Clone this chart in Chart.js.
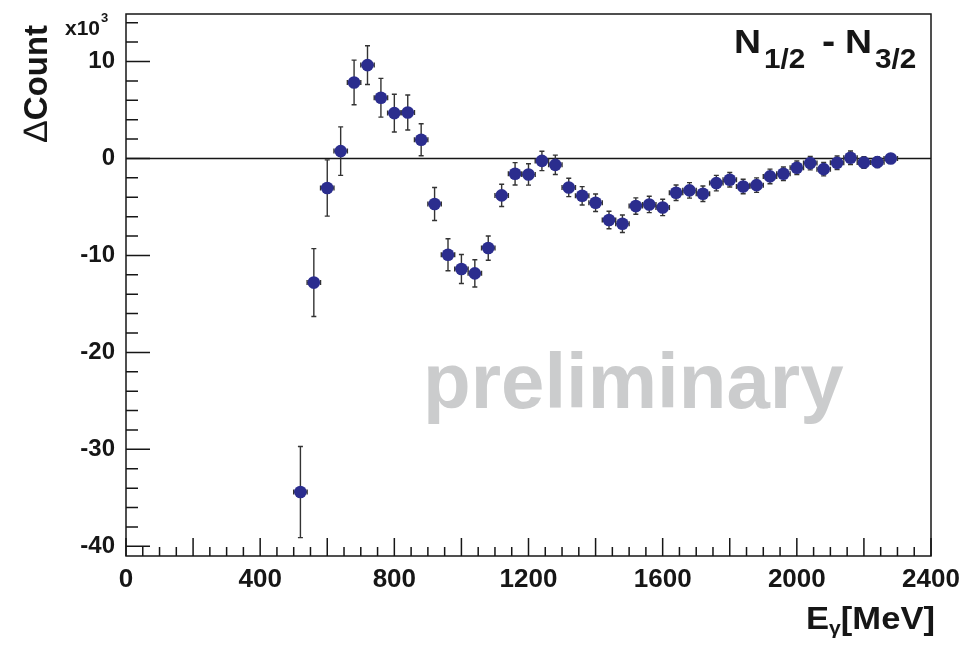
<!DOCTYPE html>
<html lang="en">
<head>
  <meta charset="UTF-8" />
  <title>N1/2 - N3/2 asymmetry</title>
  <script src="https://cdn.jsdelivr.net/npm/chart.js"></script>
  <style>
    * {
      margin: 0;
      padding: 0;
      box-sizing: border-box;
    }

    body {
      background: white;
      width: 968px;
      height: 645px;
      overflow: hidden;
    }

    .plot-box {
      position: relative;
      width: 968px;
      height: 645px;
    }
  </style>
</head>
<body>
  <div class="plot-box">
    <canvas id="diffChart" width="968" height="645"></canvas>
  </div>

  <script>
    // photon energy bin centres [MeV]
    const energy = [
      520, 560, 600, 640, 680, 720, 760, 800, 840, 880,
      920, 960, 1000, 1040, 1080, 1120, 1160, 1200, 1240, 1280,
      1320, 1360, 1400, 1440, 1480, 1520, 1560, 1600, 1640, 1680,
      1720, 1760, 1800, 1840, 1880, 1920, 1960, 2000, 2040, 2080,
      2120, 2160, 2200, 2240, 2280
    ];
    // count difference, units of 10^3
    const deltaCount = [
      -34.4, -12.8, -3.05, 0.76, 7.84, 9.63, 6.26, 4.68, 4.74, 1.93,
      -4.70, -9.93, -11.40, -11.85, -9.24, -3.81, -1.58, -1.65, -0.25, -0.66,
      -2.99, -3.85, -4.57, -6.35, -6.73, -4.91, -4.74, -5.05, -3.54, -3.29,
      -3.64, -2.54, -2.20, -2.89, -2.75, -1.85, -1.58, -0.96, -0.48, -1.10,
      -0.45, 0.07, -0.41, -0.38, 0.0
    ];
    // statistical errors, units of 10^3
    const deltaErr = [
      4.7, 3.5, 2.9, 2.5, 2.3, 2.0, 2.0, 1.95, 1.8, 1.65,
      1.7, 1.65, 1.5, 1.4, 1.25, 1.15, 1.15, 1.1, 1.0, 1.0,
      0.95, 0.95, 0.9, 0.9, 0.9, 0.85, 0.85, 0.85, 0.8, 0.8,
      0.8, 0.8, 0.75, 0.75, 0.75, 0.75, 0.7, 0.7, 0.7, 0.7,
      0.7, 0.7, 0.6, 0.55, 0.4
    ];
    const binHalfWidth = 20;

    const xTickValues = [0, 400, 800, 1200, 1600, 2000, 2400];
    const yTickValues = [-40, -30, -20, -10, 0, 10];

    const ink = '#161616';
    const markerColor = '#2b2d8e';
    const fontFamily = '"Liberation Sans", Arial, Helvetica, sans-serif';

    const points = energy.map((e, i) => ({ x: e, y: deltaCount[i] }));

    // error bars, zero line and watermark underneath the markers
    const underlayPlugin = {
      id: 'underlay',
      beforeDatasetsDraw(chart) {
        const { ctx, chartArea: a, scales: { x, y } } = chart;
        ctx.save();

        ctx.font = `bold 78px ${fontFamily}`;
        ctx.fillStyle = '#cbcccd';
        ctx.textBaseline = 'alphabetic';
        ctx.textAlign = 'left';
        ctx.fillText('preliminary', 423, 408);

        ctx.strokeStyle = ink;
        ctx.lineWidth = 1.5;
        ctx.beginPath();
        ctx.moveTo(a.left, y.getPixelForValue(0));
        ctx.lineTo(a.right, y.getPixelForValue(0));
        ctx.stroke();

        ctx.strokeStyle = '#333';
        ctx.lineWidth = 1.4;
        const cap = 2.5;
        energy.forEach((e, i) => {
          const px = x.getPixelForValue(e);
          const py = y.getPixelForValue(deltaCount[i]);
          const y1 = y.getPixelForValue(deltaCount[i] + deltaErr[i]);
          const y2 = y.getPixelForValue(deltaCount[i] - deltaErr[i]);
          const x1 = x.getPixelForValue(e - binHalfWidth);
          const x2 = x.getPixelForValue(e + binHalfWidth);
          ctx.beginPath();
          ctx.moveTo(px, y1); ctx.lineTo(px, y2);
          ctx.moveTo(px - cap, y1); ctx.lineTo(px + cap, y1);
          ctx.moveTo(px - cap, y2); ctx.lineTo(px + cap, y2);
          ctx.moveTo(x1, py); ctx.lineTo(x2, py);
          ctx.moveTo(x1, py - cap); ctx.lineTo(x1, py + cap);
          ctx.moveTo(x2, py - cap); ctx.lineTo(x2, py + cap);
          ctx.stroke();
        });
        ctx.restore();
      }
    };

    // draw a run of text pieces stretched to fill [x0, x1]
    function stretchText(ctx, pieces, x0, x1) {
      let total = 0;
      pieces.forEach(p => {
        ctx.font = p.font;
        p.w = ctx.measureText(p.text).width;
        total += p.w;
      });
      const k = (x1 - x0) / total;
      ctx.save();
      ctx.translate(x0, 0);
      ctx.scale(k, 1);
      let cx = 0;
      pieces.forEach(p => {
        ctx.font = p.font;
        ctx.fillText(p.text, cx, p.base);
        cx += p.w;
      });
      ctx.restore();
    }

    // frame, inward ticks and the axis/plot titles
    const framePlugin = {
      id: 'frame',
      afterDraw(chart) {
        const { ctx, chartArea: a, scales: { x, y } } = chart;
        ctx.save();
        ctx.strokeStyle = ink;
        ctx.lineWidth = 1.5;
        ctx.strokeRect(a.left, a.top, a.right - a.left, a.bottom - a.top);

        ctx.beginPath();
        for (let v = 0; v <= 2400; v += 50) {
          const px = x.getPixelForValue(v);
          const len = v % 200 === 0 ? 18 : 9;
          ctx.moveTo(px, a.bottom);
          ctx.lineTo(px, a.bottom - len);
        }
        for (let v = -40; v <= 14; v += 2) {
          const py = y.getPixelForValue(v);
          const len = v % 10 === 0 ? 24 : 12;
          ctx.moveTo(a.left, py);
          ctx.lineTo(a.left + len, py);
        }
        ctx.stroke();

        ctx.fillStyle = ink;
        ctx.textBaseline = 'alphabetic';
        ctx.textAlign = 'left';

        // y title, rotated; thin delta then bold word
        ctx.save();
        ctx.translate(47, 142);
        ctx.rotate(-Math.PI / 2);
        ctx.font = `34px ${fontFamily}`;
        ctx.fillText('\u2206', 0, 0);
        const wD = ctx.measureText('\u2206').width;
        ctx.font = `bold 33px ${fontFamily}`;
        ctx.fillText('Count', wD + 1, 0);
        ctx.restore();

        // exponent label
        ctx.font = `bold 21px ${fontFamily}`;
        ctx.fillText('x10', 65, 35);
        const w10 = ctx.measureText('x10').width;
        ctx.font = `bold 13px ${fontFamily}`;
        ctx.fillText('3', 65 + w10 + 1, 22);

        // x title E_gamma [MeV]
        stretchText(ctx, [
          { text: 'E', font: `bold 31px ${fontFamily}`, base: 629 },
          { text: '\u03b3', font: `bold 19px ${fontFamily}`, base: 634 },
          { text: '[MeV]', font: `bold 31px ${fontFamily}`, base: 629 }
        ], 806, 935);

        // plot title N_1/2 - N_3/2
        const parts = [
          ['N', 34, 53, 734], ['1/2', 27, 68, 764], ['-', 36, 53, 822],
          ['N', 34, 53, 845], ['3/2', 27, 68, 875]
        ];
        parts.forEach(([t, size, base, px]) => {
          ctx.save();
          ctx.translate(px, 0);
          ctx.scale(1.1, 1);
          ctx.font = `bold ${size}px ${fontFamily}`;
          ctx.fillText(t, 0, base);
          ctx.restore();
        });
        ctx.restore();
      }
    };

    new Chart(document.getElementById('diffChart'), {
      type: 'scatter',
      data: {
        datasets: [{
          label: 'N1/2 - N3/2',
          data: points,
          pointRadius: 6.3,
          pointHoverRadius: 6.3,
          pointBackgroundColor: markerColor,
          pointBorderColor: markerColor,
          pointBorderWidth: 0,
          showLine: false
        }]
      },
      options: {
        responsive: false,
        animation: false,
        events: [],
        layout: { padding: { top: 14, right: 37, left: 0, bottom: 0 } },
        plugins: {
          legend: { display: false },
          tooltip: { enabled: false },
          title: { display: false }
        },
        scales: {
          x: {
            type: 'linear',
            min: 0,
            max: 2400,
            afterBuildTicks: (scale) => {
              scale.ticks = xTickValues.map(v => ({ value: v }));
            },
            afterFit: (scale) => {
              scale.height = 89;
              scale.paddingLeft = 0;
              scale.paddingRight = 0;
            },
            grid: { display: false, drawTicks: false },
            border: { display: false },
            ticks: {
              padding: 8,
              maxRotation: 0,
              color: ink,
              font: { family: fontFamily, size: 26, weight: 'bold' },
              callback: (v) => String(v)
            }
          },
          y: {
            type: 'linear',
            min: -41,
            max: 14.9,
            afterBuildTicks: (scale) => {
              scale.ticks = yTickValues.map(v => ({ value: v }));
            },
            afterFit: (scale) => {
              scale.width = 126;
              scale.paddingTop = 0;
              scale.paddingBottom = 0;
            },
            grid: { display: false, drawTicks: false },
            border: { display: false },
            ticks: {
              padding: 11,
              color: ink,
              font: { family: fontFamily, size: 24, weight: 'bold' },
              callback: (v) => String(v)
            }
          }
        }
      },
      plugins: [underlayPlugin, framePlugin]
    });
  </script>
</body>
</html>
